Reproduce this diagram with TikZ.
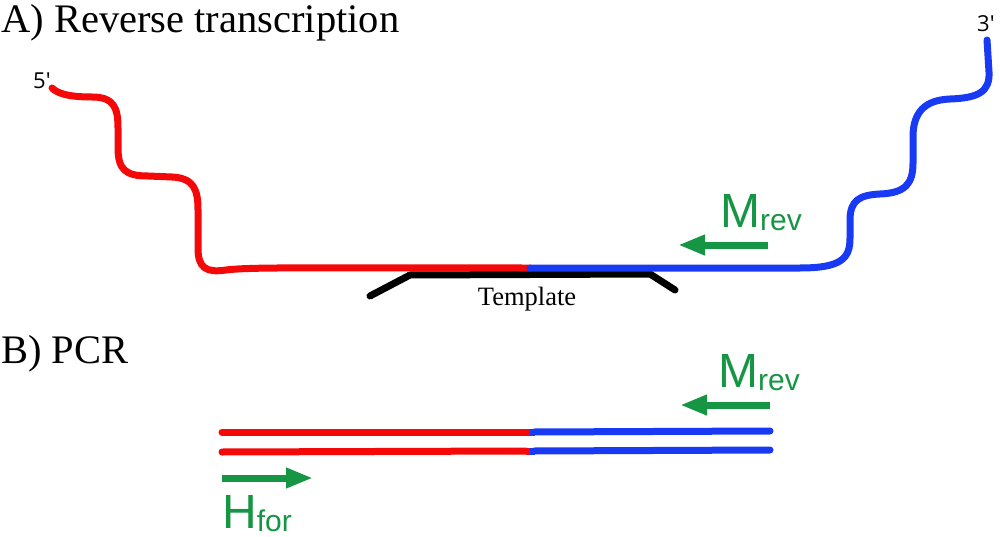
\documentclass[tikz,border=0pt]{standalone}
\usepackage{fontspec}
\setmainfont{Liberation Serif}
\newfontfamily\labsans{Liberation Sans}
\newfontfamily\endsans{Open Sans}
\usetikzlibrary{arrows.meta,calc}
\definecolor{strandred}{RGB}{245,8,8}
\definecolor{strandblue}{RGB}{24,58,245}
\definecolor{primergreen}{RGB}{22,150,68}
\tikzset{
  strand/.style={line width=7pt, line cap=round, line join=round},
  tmpl/.style={line width=7pt, line cap=round, line join=round, black},
  primer/.style={line width=7pt, primergreen, -{Triangle[length=27pt,width=19pt]}},
  title/.style={inner sep=0pt, anchor=base west, font=\fontsize{40.5}{44}\selectfont},
  endlab/.style={inner sep=0pt, anchor=base west, font=\endsans\fontsize{22}{24}\selectfont},
  primlab/.style={inner sep=0pt, anchor=base west, text=primergreen, font=\labsans\fontsize{48}{50}\selectfont},
}
\newcommand{\psub}[1]{\raisebox{-3pt}{\fontsize{30}{32}\selectfont #1}}
\begin{document}
\begin{tikzpicture}[x=1pt,y=-1pt]
\useasboundingbox (0,0) rectangle (1000,537);
% titles
\node[title] (tA) at (1,33) {A) Reverse transcription};
\node[title] (tB) at (1,363) {B) PCR};
% template
\coordinate (t1) at (370,296);
\coordinate (t2) at (410,275);
\coordinate (t3) at (650,274);
\coordinate (t4) at (675,290);
\draw[tmpl] (t1) -- (t2) -- (t3) -- (t4);
\node[inner sep=0pt, anchor=base, font=\fontsize{26.5}{28}\selectfont] (tmp) at (527,305) {Template};
% red strand
\coordinate (r0) at (52,88);
\coordinate (mid) at (530,268);
\draw[strand, strandred] (r0) .. controls (58,94) and (70,97) .. (92,97)
  .. controls (114,97) and (118,108) .. (118,128) -- (118,148)
  .. controls (118,170) and (126,176) .. (148,176) -- (172,177)
  .. controls (194,178) and (198,190) .. (198,210) -- (198,248)
  .. controls (198,268) and (206,273) .. (226,270)
  .. controls (250,267) and (300,268) .. (mid);
% blue strand
\coordinate (b0) at (987,40);
\draw[strand, strandblue] (mid) -- (800,268)
  .. controls (842,268) and (850,258) .. (850,238) -- (850,220)
  .. controls (850,200) and (860,195) .. (880,194)
  .. controls (906,193) and (913,183) .. (913,163) -- (913,137)
  .. controls (913,112) and (925,100) .. (950,99)
  .. controls (978,98) and (990,92) .. (989,72) -- (b0);
\node[endlab] (five) at (33,89) {5'};
\node[endlab] (three) at (977,32) {3'};
% primer A
\coordinate (pa1) at (768,245);
\coordinate (pa2) at (678,245);
\draw[primer] (pa1) -- (pa2);
\node[primlab] (mrevA) at (720,228) {M\psub{rev}};
% PCR
\coordinate (u1) at (222,432);
\coordinate (u2) at (530,432);
\coordinate (u3) at (770,431);
\coordinate (l1) at (222,452);
\coordinate (l2) at (530,451);
\coordinate (l3) at (770,450);
\draw[strand, strandred] (u1) -- ($(u2)+(-4,0)$);
\draw[strand, strandblue] ($(u2)+(4,0)$) -- (u3);
\draw[strand, strandred] (l1) -- ($(l2)+(-4,0)$);
\draw[strand, strandblue] ($(l2)+(4,0)$) -- (l3);
\draw[line width=7pt, strandred] ($(u2)+(-4.5,0)$) -- (u2);
\draw[line width=7pt, strandblue] (u2) -- ($(u2)+(4.5,0)$);
\draw[line width=7pt, strandred] ($(l2)+(-4.5,0)$) -- (l2);
\draw[line width=7pt, strandblue] (l2) -- ($(l2)+(4.5,0)$);
% primer B rev
\coordinate (pb1) at (770,405);
\coordinate (pb2) at (680,405);
\draw[primer] (pb1) -- (pb2);
\node[primlab] (mrevB) at (718,387) {M\psub{rev}};
% primer B for
\coordinate (pf1) at (222,478);
\coordinate (pf2) at (313,478);
\draw[primer] (pf1) -- (pf2);
\node[primlab] (hfor) at (222,528) {H\psub{for}};
\end{tikzpicture}
\end{document}
